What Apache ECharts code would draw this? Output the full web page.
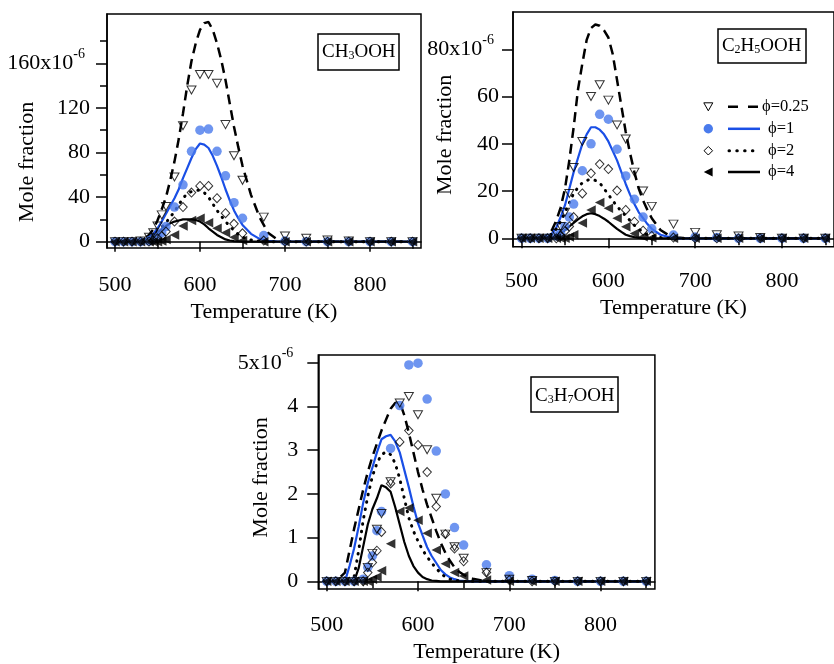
<!DOCTYPE html>
<html><head><meta charset="utf-8">
<script src="https://cdn.jsdelivr.net/npm/echarts@6/dist/echarts.min.js"></script>
<style>html,body{margin:0;padding:0;background:#fff}#c{width:834px;height:664px}</style>
</head><body><div id="c"></div>
<script>
// ---------- DATA ----------
const T_EXP = [500,510,520,530,540,545,550,555,560,570,580,590,600,610,620,630,640,650,675,700,725,750,775,800,825,850];
const T_MODEL = [500,510,520,525,530,535,540,545,550,555,560,565,570,575,580,585,590,595,600,605,610,615,620,625,630,635,640,645,650,660,670,680,690,700,725,750,800,850];

// CH3OOH (x1e-6)
const CH3_EXP_025 = [0,0,0,0.5,4,8,14,24,31.5,58,104,136,150,150,142,105,77,55,22,5,3,1.5,0.5,0,0,0];
const CH3_EXP_1   = [0,0,0,0,0.5,2,4,8,13.5,31,51,81,100,101,81,59,35,21,5.5,0.5,0,0,0,0,0,0];
const CH3_EXP_2   = [0,0,0,0,0,1,3,5,9,18,31,44,50,50,39,25.5,16,7.5,1,0,0,0,0,0,0,0];
const CH3_EXP_4   = [0,0,0,0,0,0,0,0.5,2,6,14,19,21,17,12,8,4,1,0,0,0,0,0,0,0,0];
const CH3_MOD_025 = [0,0,0,0.5,1.5,3,6,11,19,29,40,55,72,92,115,140,162,178,190,196,197,190,178,163,145,124,103,85,68,42,22,8,2.5,0.5,0,0,0,0];
const CH3_MOD_1   = [0,0,0,0.3,1,2,4,7,12,18,25,32,39,47,57,66,75,83,88,87,84,77,68,58,47,37,28,21,15,7,2.5,0.8,0.2,0,0,0,0,0];
const CH3_MOD_2   = [0,0,0,0,0.5,1.5,3,5.5,9,13,17,22,27,33,39,43,45,46,46,44,40,34,28,23,18,14,10,6.5,4,1.5,0.5,0,0,0,0,0,0,0];
const CH3_MOD_4   = [0,0,0,0,0.5,1.5,3,5.5,8,11,14,16.5,18,19,20,20,20,19.5,18,15.5,12,9,6,4,2,1,0.5,0.2,0,0,0,0,0,0,0,0,0,0];

// C2H5OOH (x1e-6)
const C2_EXP_025 = [0,0,0,0,2,5,11,19,30,41,60,65,58.5,48,42,28,20,13.5,6,2.5,1.5,1,0.3,0,0,0];
const C2_EXP_1   = [0,0,0,0,1,2,5,9,14.5,28.6,40,52.5,50.4,37.7,26.4,16.5,9,4,1.4,0.5,0.3,0,0,0,0,0];
const C2_EXP_2   = [0,0,0,0,0,1,3,5,9,19,27.5,31.4,29.3,20.2,12,7,3.2,1,0.3,0,0,0,0,0,0,0];
const C2_EXP_4   = [0,0,0,0,0,0,0,0.5,1.5,6.5,12,15.2,12.7,8.5,4.9,2,0.7,0.2,0,0,0,0,0,0,0,0];
const C2_MOD_025 = [0,0,0,0.5,1.5,3.5,7.5,13,21,33,47,63,74,84,89,90.5,90,88,85,78,67,56,45,36,28,21,16,12,8.5,3.5,1.2,0.3,0,0,0,0,0,0];
const C2_MOD_1   = [0,0,0,0,0.4,2,4.5,9,14,21,28,34,40,44,47,47,46,44,41,37,33,28,23,18.5,14.5,11,8.5,6,4,1.5,0.5,0,0,0,0,0,0,0];
const C2_MOD_2   = [0,0,0,0,0.5,2,4,7,11,15,19,21.5,23.5,24.5,25,24.5,23.5,21,18.5,16,13.5,11.5,9.5,7.5,5.5,4,2.5,1.5,1,0.3,0,0,0,0,0,0,0,0];
const C2_MOD_4   = [0,0,0,0,0,0.5,1,2,3.5,5,6.5,8,9.3,10.2,10.6,10.2,9.4,8.3,7,5.5,4,2.7,1.5,0.9,0.5,0.2,0,0,0,0,0,0,0,0,0,0,0,0];

// C3H7OOH (x1e-6)
const C3_EXP_025 = [0,0,0,0,0,0.32,0.64,1.19,1.55,2.28,4.08,4.23,3.81,3.01,1.9,1.08,0.79,0.53,0.2,0.05,0.02,0,0,0,0,0];
const C3_EXP_1   = [0,0,0,0,0.05,0.32,0.58,1.16,1.6,3.04,4.02,4.95,4.99,4.17,2.98,2.0,1.23,0.83,0.38,0.13,0.05,0.02,0,0,0,0];
const C3_EXP_2   = [0,0,0,0,0,0.2,0.43,0.7,1.13,2.24,3.19,3.45,3.12,2.5,1.71,1.08,0.75,0.46,0.2,0.03,0,0,0,0,0,0];
const C3_EXP_4   = [0,0,0,0,0,0,0.05,0.1,0.24,0.86,1.6,1.68,1.4,1.1,0.72,0.4,0.2,0.12,0.03,0,0,0,0,0,0,0];
const C3_MOD_025 = [0,0,0.2,0.7,1.2,1.65,2.1,2.5,2.85,3.15,3.45,3.7,3.95,4.08,4.1,3.8,3.4,2.95,2.5,2.1,1.75,1.45,1.15,0.88,0.65,0.47,0.32,0.22,0.15,0.06,0.02,0,0,0,0,0,0,0];
const C3_MOD_1   = [0,0,0,0.35,0.75,1.25,1.8,2.25,2.6,2.95,3.25,3.32,3.35,3.2,2.95,2.55,2.15,1.72,1.33,1.05,0.78,0.58,0.42,0.26,0.16,0.09,0.05,0.02,0.01,0,0,0,0,0,0,0,0,0];
const C3_MOD_2   = [0,0,0,0,0.1,0.7,1.4,1.95,2.4,2.7,2.9,2.96,2.9,2.7,2.35,1.9,1.45,1.15,0.92,0.72,0.56,0.42,0.3,0.18,0.1,0.05,0.03,0.01,0,0,0,0,0,0,0,0,0,0];
const C3_MOD_4   = [0,0,0,0,0,0.3,0.8,1.3,1.65,1.9,2.2,2.15,2.05,1.7,1.3,0.9,0.58,0.35,0.2,0.1,0.05,0.02,0.01,0,0,0,0,0,0,0,0,0,0,0,0,0,0,0];

// ticks and labels
const X_LABELS = [500,600,700,800];
const X_MINOR = [550,650,750,850];
const Y1_LABELS = [0,40,80,120,160];
const Y1_MINOR = [20,60,100,140,180];
const Y2_LABELS = [0,20,40,60,80];
const Y3_LABELS = [0,1,2,3,4,5];
const X_NAME = 'Temperature (K)';
const Y_NAME = 'Mole fraction';
const LEGEND_LABELS = ['ϕ=0.25','ϕ=1','ϕ=2','ϕ=4'];
const SPECIES_RICH = ['{a|CH}{s|3}{a|OOH}','{a|C}{s|2}{a|H}{s|5}{a|OOH}','{a|C}{s|3}{a|H}{s|7}{a|OOH}'];

// ---------- LAYOUT / STYLE ----------
const FONT = 'Liberation Serif';
const BLUE_LINE = '#1a4fe6', BLUE_DOT = '#4a7bec';
const PANELS = [
  {grid:{left:107, top:14, width:314, height:234}, xr:[490.6,860], yr:[-5.7,204.2],
   yLabels:Y1_LABELS, yMinor:Y1_MINOR, exp:[CH3_EXP_025,CH3_EXP_1,CH3_EXP_2,CH3_EXP_4],
   mod:[CH3_MOD_025,CH3_MOD_1,CH3_MOD_2,CH3_MOD_4], xMargin:26, yMargin:17, xGap:53, yGap:69, yPad:62,
   box:{x:318,y:34,w:81,h:36}, boxText:[358.8,52.5]},
  {grid:{left:513, top:12, width:326.7, height:234.7}, xr:[490.1,860], yr:[-3.56,95.8],
   yLabels:Y2_LABELS, yMinor:[], exp:[C2_EXP_025,C2_EXP_1,C2_EXP_2,C2_EXP_4],
   mod:[C2_MOD_025,C2_MOD_1,C2_MOD_2,C2_MOD_4], xMargin:24, yMargin:14, xGap:51, yGap:57, yPad:11,
   box:{x:718,y:29,w:88,h:34}, boxText:[761.7,46.5]},
  {grid:{left:318.3, top:355, width:336.6, height:235}, xr:[490.8,859.5], yr:[-0.175,5.178],
   yLabels:Y3_LABELS, yMinor:[], exp:[C3_EXP_025,C3_EXP_1,C3_EXP_2,C3_EXP_4],
   mod:[C3_MOD_025,C3_MOD_1,C3_MOD_2,C3_MOD_4], xMargin:25, yMargin:20, xGap:52, yGap:46, yPad:11,
   box:{x:531,y:377,w:87,h:35}, boxText:[574.8,396.5]}
];
const LINE_STYLES = [
  {color:'#000', width:2.5, type:[10,6]},
  {color:BLUE_LINE, width:2.2, type:'solid'},
  {color:'#000', width:3, type:[0.5,7], cap:'round'},
  {color:'#000', width:2.2, type:'solid'}
];
const MARKERS = [
  {symbol:'triangle', symbolRotate:180, symbolSize:[9,8], itemStyle:{color:'rgba(255,255,255,0)', borderColor:'#000', borderWidth:1}},
  {symbol:'circle', symbolSize:9.5, itemStyle:{color:BLUE_DOT}},
  {symbol:'diamond', symbolSize:[8.5,9], itemStyle:{color:'rgba(255,255,255,0)', borderColor:'#000', borderWidth:1}},
  {symbol:'triangle', symbolRotate:90, symbolSize:[9.5,9.5], itemStyle:{color:'#000'}}
];
const MARKER_ORDER = [1,2,0,3];

const txt = {color:'#000', fontFamily:FONT};
const grids = [], xAxes = [], yAxes = [], series = [], graphics = [];

PANELS.forEach((p, i) => {
  grids.push(Object.assign({show:true, borderColor:'#000', borderWidth:1.5, backgroundColor:'transparent'}, p.grid));
  const lineS = {show:true, lineStyle:{color:'#000', width:1.5}};
  const tickS = {color:'#000', width:1.5};
  const top = p.yLabels[p.yLabels.length-1];
  xAxes.push({type:'value', gridIndex:i, position:'bottom', min:p.xr[0], max:p.xr[1],
    axisLine:lineS, splitLine:{show:false},
    axisTick:{show:true, length:10, lineStyle:tickS, customValues:X_LABELS},
    axisLabel:{customValues:X_LABELS, margin:p.xMargin, fontSize:22, ...txt},
    name:X_NAME, nameLocation:'middle', nameGap:p.xGap, nameMoveOverlap:false,
    nameTextStyle:{fontSize:22, ...txt}});
  xAxes.push({type:'value', gridIndex:i, position:'bottom', min:p.xr[0], max:p.xr[1],
    axisLine:{show:false}, splitLine:{show:false}, axisLabel:{show:false},
    axisTick:{show:true, length:7, lineStyle:tickS, customValues:X_MINOR}});
  yAxes.push({type:'value', gridIndex:i, position:'left', min:p.yr[0], max:p.yr[1],
    axisLine:lineS, splitLine:{show:false},
    axisTick:{show:true, length:11, lineStyle:tickS, customValues:p.yLabels},
    axisLabel:{customValues:p.yLabels, margin:p.yMargin, fontSize:22, ...txt,
      formatter: v => v === top ? '{m|' + v + 'x10}{s|-6}' : String(v),
      rich:{m:{fontSize:22, lineHeight:32, verticalAlign:'middle', ...txt},
            s:{fontSize:14, lineHeight:14, verticalAlign:'top', padding:[0,5,0,0], ...txt}}},
    name:Y_NAME, nameLocation:'middle', nameGap:p.yGap, nameMoveOverlap:false,
    nameTextStyle:{fontSize:22, padding:[0,p.yPad,0,0], ...txt}});
  yAxes.push({type:'value', gridIndex:i, position:'left', min:p.yr[0], max:p.yr[1],
    axisLine:{show:false}, splitLine:{show:false}, axisLabel:{show:false},
    axisTick:{show:p.yMinor.length>0, length:7, lineStyle:tickS, customValues:p.yMinor.length?p.yMinor:[0]}});

  p.mod.forEach((vals, k) => {
    series.push({type:'line', xAxisIndex:2*i, yAxisIndex:2*i, showSymbol:false, symbol:'none',
      z:2, silent:true, lineStyle:LINE_STYLES[k],
      data:T_MODEL.map((t, j) => [t, vals[j]])});
  });
  MARKER_ORDER.forEach(k => {
    const vals = p.exp[k];
    series.push(Object.assign({type:'scatter', xAxisIndex:2*i, yAxisIndex:2*i, z:3, silent:true,
      data:T_EXP.map((t, j) => [t, vals[j]])}, MARKERS[k]));
  });

  // species label box
  graphics.push({type:'rect', shape:{x:p.box.x, y:p.box.y, width:p.box.w, height:p.box.h},
    style:{fill:'#fff', stroke:'#000', lineWidth:1.5}, z:10});
  graphics.push({type:'text', x:p.boxText[0], y:p.boxText[1], z:11,
    style:{text:SPECIES_RICH[i], fill:'#000', align:'center', verticalAlign:'middle',
      rich:{a:{fontSize:19, lineHeight:19, fontFamily:FONT, fill:'#000', verticalAlign:'top', padding:[0,0,5,0]},
            s:{fontSize:12, lineHeight:12, fontFamily:FONT, fill:'#000', verticalAlign:'bottom'}}}});
});

// legend (panel 2)
const LEG_Y = [106.7, 128.8, 150.7, 172];
graphics.push({type:'polygon', shape:{points:[[703.8,102.8],[712.8,102.8],[708.3,110.8]]}, style:{fill:'#fff', stroke:'#000', lineWidth:1}});
graphics.push({type:'circle', shape:{cx:708.3, cy:LEG_Y[1], r:4.7}, style:{fill:BLUE_DOT}});
graphics.push({type:'polygon', shape:{points:[[708.3,146.5],[712.6,LEG_Y[2]],[708.3,155],[704,LEG_Y[2]]]}, style:{fill:'#fff', stroke:'#000', lineWidth:1}});
graphics.push({type:'polygon', shape:{points:[[703.8,LEG_Y[3]],[712.6,167.5],[712.6,176.5]]}, style:{fill:'#000'}});
graphics.push({type:'line', shape:{x1:728, y1:LEG_Y[0], x2:760, y2:LEG_Y[0]}, style:{stroke:'#000', lineWidth:2.5, lineDash:[10,10]}});
graphics.push({type:'line', shape:{x1:728, y1:LEG_Y[1], x2:760, y2:LEG_Y[1]}, style:{stroke:BLUE_LINE, lineWidth:2.5}});
graphics.push({type:'line', shape:{x1:729, y1:LEG_Y[2], x2:753, y2:LEG_Y[2]}, style:{stroke:'#000', lineWidth:3, lineDash:[0.5,7.3], lineCap:'round'}});
graphics.push({type:'line', shape:{x1:728, y1:LEG_Y[3], x2:760, y2:LEG_Y[3]}, style:{stroke:'#000', lineWidth:2.5}});
LEGEND_LABELS.forEach((t, k) => {
  graphics.push({type:'text', x:k === 0 ? 762 : 768, y:LEG_Y[k],
    style:{text:t, fill:'#000', font:'16.5px "Liberation Serif"', verticalAlign:'middle', align:'left'}});
});

const chart = echarts.init(document.getElementById('c'), null, {renderer:'canvas'});
chart.setOption({animation:false, backgroundColor:'#fff', grid:grids, xAxis:xAxes, yAxis:yAxes, series:series, graphic:graphics});
</script></body></html>
